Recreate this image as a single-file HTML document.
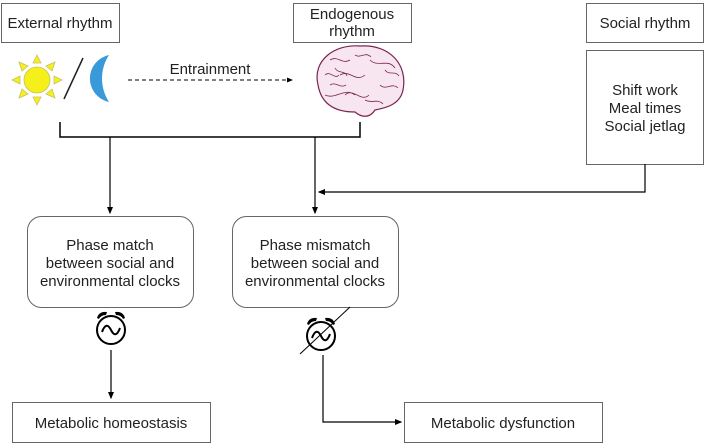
<!DOCTYPE html>
<html><head><style>
body{margin:0;width:708px;height:445px;background:#fff;overflow:hidden}
svg{display:block}
text{font-family:"Liberation Sans",Arial,sans-serif;font-size:15px;fill:#222}
</style></head><body>
<svg width="708" height="445" viewBox="0 0 708 445">
<defs><marker id="a" markerWidth="6" markerHeight="6" refX="5" refY="3" orient="auto"><path d="M0,0.5L6,3L0,5.5z" fill="#000"/></marker></defs>
<g fill="#fff" stroke="#666" stroke-width="1">
<rect x="1.5" y="3.5" width="118" height="39"/>
<rect x="293.5" y="3.5" width="118" height="39"/>
<rect x="586.5" y="3.5" width="117" height="39"/>
<rect x="586.5" y="50.5" width="117" height="114"/>
<rect x="27.5" y="216.5" width="166" height="91" rx="14"/>
<rect x="232.5" y="216.5" width="166" height="91" rx="14"/>
<rect x="12.5" y="402.5" width="198" height="40"/>
<rect x="404.5" y="402.5" width="198" height="40"/>
</g>
<text x="60" y="28" text-anchor="middle">External rhythm</text>
<text x="352" y="19" text-anchor="middle">Endogenous</text>
<text x="352" y="36" text-anchor="middle">rhythm</text>
<text x="645" y="28" text-anchor="middle">Social rhythm</text>
<text x="645" y="95" text-anchor="middle">Shift work</text>
<text x="645" y="113" text-anchor="middle">Meal times</text>
<text x="645" y="131" text-anchor="middle">Social jetlag</text>
<text x="110" y="250" text-anchor="middle">Phase match</text>
<text x="110" y="268" text-anchor="middle">between social and</text>
<text x="110" y="286" text-anchor="middle">environmental clocks</text>
<text x="315" y="250" text-anchor="middle">Phase mismatch</text>
<text x="315" y="268" text-anchor="middle">between social and</text>
<text x="315" y="286" text-anchor="middle">environmental clocks</text>
<text x="111" y="428" text-anchor="middle">Metabolic homeostasis</text>
<text x="503" y="428" text-anchor="middle">Metabolic dysfunction</text>
<text x="210" y="74" text-anchor="middle">Entrainment</text>
<g fill="#f5ef1a" stroke="#c8c060" stroke-width="0.8">
<circle cx="37" cy="80" r="13"/>
<polygon points="37,55 33,63 41,63"/><polygon points="37,105 33,97 41,97"/>
<polygon points="12,80 20,76 20,84"/><polygon points="62,80 54,76 54,84"/>
<polygon points="19,62 22,71 28,66"/><polygon points="55,62 52,71 46,66"/>
<polygon points="19,98 22,89 28,94"/><polygon points="55,98 52,89 46,94"/>
</g>
<line x1="64" y1="99" x2="83" y2="58" stroke="#222" stroke-width="1.5"/>
<path d="M109,55 A24,24 0 0 0 109,102 A43,43 0 0 1 109,55z" fill="#3a9ad9"/>
<line x1="128" y1="80" x2="292" y2="80" stroke="#000" stroke-dasharray="4,3" marker-end="url(#a)"/>
<g fill="#f7e6ef" stroke="#7a2550" stroke-width="1.2">
<path d="M318,85 C312,60 335,44 360,46 C390,44 408,65 403,90 C400,105 385,108 375,110 C370,118 362,118 355,112 C340,112 322,108 318,85z"/>
<path d="M330,60 c8,-5 12,5 20,0 M340,75 c10,-6 15,8 25,0 M325,95 c10,5 20,-8 30,0 M370,60 c8,8 18,-2 25,8 M380,85 c6,6 12,-3 18,3 M345,95 c8,-8 16,8 24,0 M335,68 c3,6 10,2 12,8 M365,100 c8,4 12,-2 18,4 M325,75 c5,-5 10,5 14,0 M355,55 c6,4 10,-4 16,2 M385,70 c4,6 10,0 14,6 M330,85 c6,-4 10,4 16,0" fill="none" stroke-width="0.8"/>
</g>
<g stroke="#000" stroke-width="1.5" fill="none">
<polyline points="60,122 60,137 360,137 360,122"/>
<line x1="110" y1="137" x2="110" y2="213" marker-end="url(#a)" stroke-width="1.2"/>
<line x1="315" y1="137" x2="315" y2="213" marker-end="url(#a)" stroke-width="1.2"/>
<polyline points="645,164 645,192 319,192" marker-end="url(#a)" stroke-width="1.2"/>
<line x1="111" y1="350" x2="111" y2="398" marker-end="url(#a)" stroke-width="1.2"/>
<polyline points="323,355 323,422 401,422" marker-end="url(#a)" stroke-width="1.2"/>
</g>
<g stroke="#000" stroke-width="2" fill="none">
<circle cx="111" cy="330" r="14"/>
<path d="M102,332 c3,-8 6,-8 9,-2 s6,6 9,-2"/>
<circle cx="321" cy="336" r="14"/>
<path d="M312,338 c3,-8 6,-8 9,-2 s6,6 9,-2"/>
</g>
<g fill="#000">
<path d="M97,318 q2,-7 10,-6 l-1,3 q-5,0 -7,4z"/><path d="M125,318 q-2,-7 -10,-6 l1,3 q5,0 7,4z"/>
<path d="M307,324 q2,-7 10,-6 l-1,3 q-5,0 -7,4z"/><path d="M335,324 q-2,-7 -10,-6 l1,3 q5,0 7,4z"/>
</g>
<line x1="300" y1="354" x2="350" y2="307" stroke="#000" stroke-width="1"/>
</svg>
</body></html>
